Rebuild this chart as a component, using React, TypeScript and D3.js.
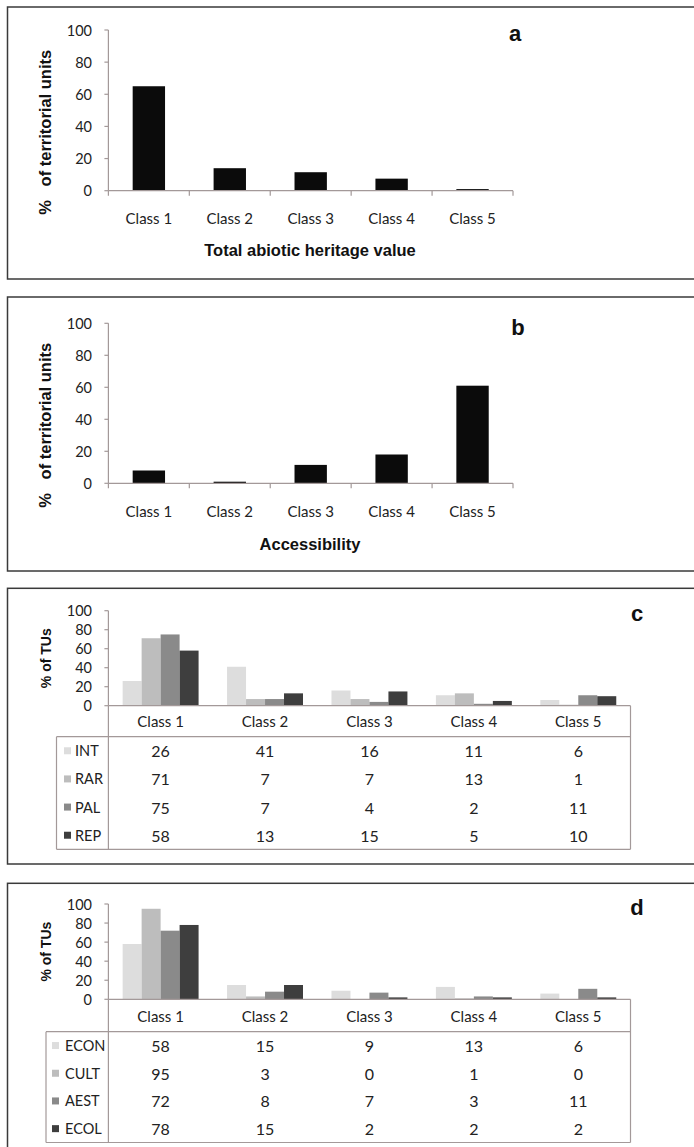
import React from 'react';
import * as d3 from 'd3';

// categories and ticks
const classes = ['Class 1', 'Class 2', 'Class 3', 'Class 4', 'Class 5'];
const yTicks = [0, 20, 40, 60, 80, 100];

// panel a / b values (% of territorial units)
const abioticValues = [65, 14, 11.5, 7.5, 1];
const accessValues = [8, 1, 11.5, 18, 61];

// panel c series
const geoSeries = ['INT', 'RAR', 'PAL', 'REP'];
const intValues = [26, 41, 16, 11, 6];
const rarValues = [71, 7, 7, 13, 1];
const palValues = [75, 7, 4, 2, 11];
const repValues = [58, 13, 15, 5, 10];

// panel d series
const serviceSeries = ['ECON', 'CULT', 'AEST', 'ECOL'];
const econValues = [58, 15, 9, 13, 6];
const cultValues = [95, 3, 0, 1, 0];
const aestValues = [72, 8, 7, 3, 11];
const ecolValues = [78, 15, 2, 2, 2];

const seriesColors = ['#dddddd', '#bdbdbd', '#8a8a8a', '#3e3e3e'];

const axisColor = '#a39999';
const boxColor = '#3a3a3a';
const calibri = 'Lato, "Open Sans", sans-serif';
const arialBold = '"Liberation Sans", Arial, sans-serif';

const plotLeft = 108.4;

function YAxis({ y }) {
  return (
    <g>
      <line x1={plotLeft} x2={plotLeft} y1={y(100)} y2={y(0)} stroke={axisColor} strokeWidth={1.2} />
      {yTicks.map(t => (
        <g key={t}>
          <line x1={plotLeft - 4} x2={plotLeft} y1={y(t)} y2={y(t)} stroke={axisColor} strokeWidth={1.2} />
          <text x={92} y={y(t)} textAnchor="end" dominantBaseline="central"
            fontFamily={calibri} fontSize={14.5} fill="#222">{t}</text>
        </g>
      ))}
    </g>
  );
}

function BarPanel(props) {
  const { values, boxTop, boxBottom, yTop, yBottom, labelY, title, titleY, letter, letterX, letterY } = props;
  const x = d3.scaleBand().domain(classes).range([plotLeft, 513]);
  const y = d3.scaleLinear().domain([0, 100]).range([yBottom, yTop]);
  const bw = x.bandwidth() * 0.4;
  const titleCenter = (y(100) + y(0)) / 2 + 22;

  return (
    <g>
      <rect x={7.5} y={boxTop} width={720} height={boxBottom - boxTop} fill="none" stroke={boxColor} strokeWidth={1.5} />
      {values.map((v, i) => (
        <rect key={i} x={x(classes[i]) + (x.bandwidth() - bw) / 2} y={y(v)} width={bw}
          height={y(0) - y(v)} fill="#0b0b0b" />
      ))}
      <YAxis y={y} />
      <line x1={plotLeft} x2={513} y1={y(0)} y2={y(0)} stroke={axisColor} strokeWidth={1.2} />
      {classes.map((c, i) => (
        <line key={'t' + i} x1={x(c)} x2={x(c)} y1={y(0)} y2={y(0) + 5} stroke={axisColor} strokeWidth={1.2} />
      ))}
      <line x1={513} x2={513} y1={y(0)} y2={y(0) + 5} stroke={axisColor} strokeWidth={1.2} />
      {classes.map(c => (
        <text key={c} x={x(c) + x.bandwidth() / 2} y={labelY} textAnchor="middle" dominantBaseline="central"
          fontFamily={calibri} fontSize={15} fill="#222">{c}</text>
      ))}
      <text transform={`translate(45,${titleCenter}) rotate(-90)`} textAnchor="middle" dominantBaseline="central"
        xmlSpace="preserve" style={{ whiteSpace: 'pre' }}
        fontFamily={arialBold} fontWeight="bold" fontSize={16.5} fill="#111">{'%   of territorial units'}</text>
      <text x={310} y={titleY} textAnchor="middle" dominantBaseline="central"
        fontFamily={arialBold} fontWeight="bold" fontSize={16.5} fill="#111">{title}</text>
      <text x={letterX} y={letterY} textAnchor="middle" dominantBaseline="central"
        fontFamily={arialBold} fontWeight="bold" fontSize={22} fill="#111">{letter}</text>
    </g>
  );
}

function TablePanel(props) {
  const { series, data, boxTop, boxBottom, yTop, yBottom, headerBottom, tableBottom, tableLeft,
    swatchX, labelX, letter, letterY } = props;
  const plotRight = 630.5;
  const x = d3.scaleBand().domain(classes).range([plotLeft, plotRight]);
  const y = d3.scaleLinear().domain([0, 100]).range([yBottom, yTop]);
  const bw = x.bandwidth() / 5.5;
  const rowH = (tableBottom - headerBottom) / series.length;

  return (
    <g>
      <rect x={7.5} y={boxTop} width={720} height={boxBottom - boxTop} fill="none" stroke={boxColor} strokeWidth={1.5} />
      {series.map((s, si) =>
        data[si].map((v, ci) => (
          <rect key={s + ci} x={x(classes[ci]) + bw * 0.75 + si * bw} y={y(v)} width={bw}
            height={y(0) - y(v)} fill={seriesColors[si]} />
        ))
      )}
      <YAxis y={y} />
      {/* table grid */}
      <line x1={plotLeft} x2={plotRight} y1={y(0)} y2={y(0)} stroke={axisColor} strokeWidth={1.2} />
      <line x1={plotLeft} x2={plotLeft} y1={y(0)} y2={tableBottom} stroke={axisColor} strokeWidth={1.2} />
      <line x1={plotRight} x2={plotRight} y1={y(0)} y2={tableBottom} stroke={axisColor} strokeWidth={1.2} />
      <line x1={tableLeft} x2={plotRight} y1={headerBottom} y2={headerBottom} stroke={axisColor} strokeWidth={1.2} />
      <line x1={tableLeft} x2={plotRight} y1={tableBottom} y2={tableBottom} stroke={axisColor} strokeWidth={1.2} />
      <line x1={tableLeft} x2={tableLeft} y1={headerBottom} y2={tableBottom} stroke={axisColor} strokeWidth={1.2} />
      {classes.map(c => (
        <text key={c} x={x(c) + x.bandwidth() / 2} y={(y(0) + headerBottom) / 2} textAnchor="middle"
          dominantBaseline="central" fontFamily={calibri} fontSize={15} fill="#222">{c}</text>
      ))}
      {series.map((s, si) => {
        const ry = headerBottom + rowH * (si + 0.5);
        return (
          <g key={s}>
            <rect x={swatchX} y={ry - 3.5} width={7} height={7} fill={seriesColors[si]} />
            <text x={labelX} y={ry} dominantBaseline="central" fontFamily={calibri} fontSize={14.5} fill="#222">{s}</text>
            {data[si].map((v, ci) => (
              <text key={ci} x={x(classes[ci]) + x.bandwidth() / 2} y={ry} textAnchor="middle"
                dominantBaseline="central" fontFamily={calibri} fontSize={16} fill="#222">{v}</text>
            ))}
          </g>
        );
      })}
      <text transform={`translate(46,${(y(0) + y(100)) / 2}) rotate(-90)`} textAnchor="middle"
        dominantBaseline="central" fontFamily={arialBold} fontWeight="bold" fontSize={14} fill="#111">% of TUs</text>
      <text x={637} y={letterY} textAnchor="middle" dominantBaseline="central"
        fontFamily={arialBold} fontWeight="bold" fontSize={22} fill="#111">{letter}</text>
    </g>
  );
}

export default function App() {
  return (
    <svg width={694} height={1147} style={{ position: 'absolute', left: 0, top: 0, background: '#fff' }}>
      <rect width={694} height={1147} fill="#fff" />
      <BarPanel values={abioticValues} boxTop={7} boxBottom={279} yTop={30} yBottom={190.7}
        labelY={218} title="Total abiotic heritage value" titleY={250} letter="a" letterX={515} letterY={33} />
      <BarPanel values={accessValues} boxTop={297} boxBottom={571} yTop={323.3} yBottom={483.3}
        labelY={510.7} title="Accessibility" titleY={544} letter="b" letterX={518} letterY={327} />
      <TablePanel series={geoSeries} data={[intValues, rarValues, palValues, repValues]}
        boxTop={588.3} boxBottom={864} yTop={610.7} yBottom={705.7} headerBottom={736.7} tableBottom={849.3}
        tableLeft={56.5} swatchX={64} labelX={75} letter="c" letterY={613} />
      <TablePanel series={serviceSeries} data={[econValues, cultValues, aestValues, ecolValues]}
        boxTop={883.3} boxBottom={1170} yTop={904} yBottom={999.3} headerBottom={1031.7} tableBottom={1142.5}
        tableLeft={46} swatchX={52} labelX={65} letter="d" letterY={907} />
    </svg>
  );
}
